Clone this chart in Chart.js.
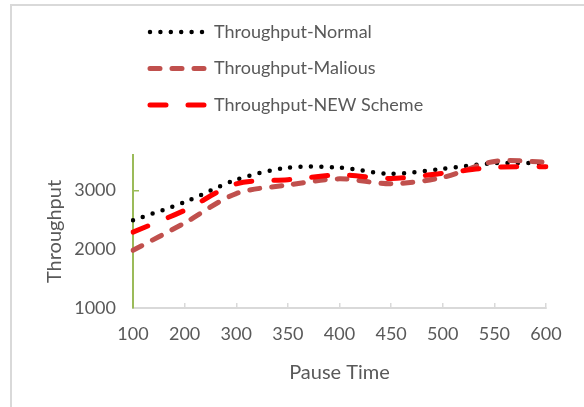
<!DOCTYPE html>
<html>
<head>
<meta charset="utf-8">
<script src="https://cdn.jsdelivr.net/npm/chart.js@4"></script>
<style>
    html, body { margin: 0; padding: 0; background: #fff; overflow: hidden; }
    #wrap { position: relative; width: 584px; height: 407px; }
    #frame {
        position: absolute; left: 10px; top: 4px; width: 600px; height: 420px;
        border-top: 2px solid #d9d9d9; border-left: 2px solid #d9d9d9;
    }
    #throughputChart { position: absolute; left: 0; top: 0; }
</style>
</head>
<body>
<div id="wrap">
    <div id="frame"></div>
    <canvas id="throughputChart" width="584" height="407"></canvas>
</div>
<script>
// Values
const pauseTimes = ['100', '200', '300', '350', '400', '450', '500', '550', '600'];
const normalThroughput = [2490, 2800, 3180, 3385, 3385, 3280, 3365, 3460, 3460];
const maliousThroughput = [1980, 2445, 2945, 3090, 3195, 3110, 3220, 3490, 3480];
const newSchemeThroughput = [2290, 2660, 3110, 3180, 3260, 3200, 3290, 3390, 3400];
const yTickValues = [1000, 2000, 3000];

const textGrey = '#595959';
const fontFamily = 'Lato, "Open Sans", sans-serif';

// Excel-like legend stacked on the top left
const stackedLegend = {
    id: 'stackedLegend',
    afterDraw(chart) {
        const ctx = chart.ctx;
        const rows = [32, 68.5, 105];
        chart.data.datasets.forEach((ds, i) => {
            const y = rows[i];
            ctx.save();
            ctx.strokeStyle = ds.borderColor;
            ctx.lineWidth = ds.borderWidth;
            ctx.lineCap = ds.borderCapStyle;
            ctx.setLineDash(ds.borderDash);
            ctx.beginPath();
            ctx.moveTo(150, y);
            ctx.lineTo(204, y);
            ctx.stroke();
            ctx.restore();

            ctx.save();
            ctx.fillStyle = textGrey;
            ctx.font = '18px ' + fontFamily;
            ctx.textBaseline = 'middle';
            ctx.fillText(ds.label, 214, y);
            ctx.restore();
        });
    }
};

function initChart() {
    const ctx = document.getElementById('throughputChart').getContext('2d');

    const data = {
        labels: pauseTimes,
        datasets: [
            {
                label: 'Throughput-Normal',
                data: normalThroughput,
                borderColor: '#000000',
                borderWidth: 4.5,
                borderDash: [0, 10.4],
                borderCapStyle: 'round',
                order: 2
            },
            {
                label: 'Throughput-Malious',
                data: maliousThroughput,
                borderColor: '#c0504d',
                borderWidth: 5,
                borderDash: [10, 12],
                borderCapStyle: 'round',
                order: 1
            },
            {
                label: 'Throughput-NEW Scheme',
                data: newSchemeThroughput,
                borderColor: '#ff0000',
                borderWidth: 5,
                borderDash: [16, 22],
                borderCapStyle: 'round',
                order: 0
            }
        ]
    };

    const config = {
        type: 'line',
        data: data,
        options: {
            responsive: false,
            animation: false,
            layout: { padding: { left: 0, top: 155, right: 38, bottom: 0 } },
            elements: {
                point: { radius: 0 },
                line: { tension: 0.3, fill: false }
            },
            plugins: {
                legend: { display: false },
                tooltip: { enabled: false }
            },
            scales: {
                x: {
                    type: 'category',
                    offset: false,
                    ticks: {
                        color: textGrey,
                        font: { family: fontFamily, size: 18 },
                        padding: 20,
                        autoSkip: false,
                        maxRotation: 0
                    },
                    grid: { drawOnChartArea: false, tickLength: -5, color: '#d9d9d9', lineWidth: 1.5 },
                    border: { color: '#d9d9d9', width: 2 },
                    title: {
                        display: true,
                        text: 'Pause Time',
                        color: textGrey,
                        font: { family: fontFamily, size: 20, weight: 'normal' },
                        padding: { top: 0, bottom: 22 }
                    },
                    afterFit: (scale) => { scale.height = 99; }
                },
                y: {
                    min: 1000,
                    max: 3600,
                    afterBuildTicks: (scale) => {
                        scale.ticks = yTickValues.map(v => ({ value: v }));
                    },
                    ticks: {
                        color: textGrey,
                        font: { family: fontFamily, size: 18 },
                        padding: 23,
                        callback: (value) => String(value)
                    },
                    grid: { drawOnChartArea: false, tickLength: -6, color: '#9bbb59', lineWidth: 1.5 },
                    border: { color: '#9bbb59', width: 2 },
                    title: {
                        display: true,
                        text: 'Throughput',
                        color: textGrey,
                        font: { family: fontFamily, size: 20, weight: 'normal' },
                        padding: { top: 43, bottom: 0 }
                    },
                    afterFit: (scale) => { scale.width = 133; }
                }
            }
        },
        plugins: [stackedLegend]
    };

    return new Chart(ctx, config);
}

document.addEventListener('DOMContentLoaded', () => {
    initChart();
});
</script>
</body>
</html>
